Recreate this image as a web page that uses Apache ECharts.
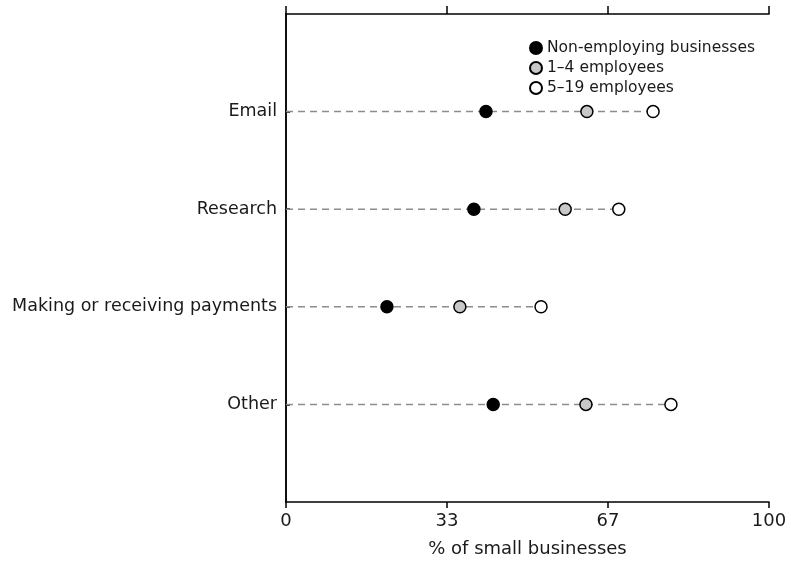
<!DOCTYPE html>
<html>
<head>
<meta charset="utf-8">
<script src="https://cdn.jsdelivr.net/npm/echarts@6/dist/echarts.min.js"></script>
<style>html,body{margin:0;padding:0;background:#fff}#c{width:791px;height:563px}</style>
</head>
<body>
<div id="c"></div>
<script>
const categories = ['Email', 'Research', 'Making or receiving payments', 'Other'];
const nonEmploying = [41.4, 38.9, 20.9, 42.9];
const emp1to4 = [62.3, 57.8, 36.0, 62.1];
const emp5to19 = [76.0, 68.9, 52.8, 79.7];
const seriesNames = ['Non-employing businesses', '1\u20134 employees', '5\u201319 employees'];
const xTicks = [0, 33, 67, 100];

const FONT = 'DejaVu Sans';
const TXT = '#1a1a1a';
const yData = [''].concat(categories, ['']);

const chart = echarts.init(document.getElementById('c'), null, {renderer: 'canvas'});

const lineSeries = categories.map((c, i) => ({
  type: 'line',
  silent: true,
  symbol: 'none',
  z: 1,
  lineStyle: {color: '#8c8c8c', width: 1.5, type: [7, 5]},
  data: [[0, c], [Math.max(nonEmploying[i], emp1to4[i], emp5to19[i]), c]]
}));

function scatter(name, vals, fill) {
  return {
    type: 'scatter',
    name: name,
    z: 5,
    symbol: 'circle',
    symbolSize: 12,
    itemStyle: {color: fill, borderColor: '#000', borderWidth: 1.5, opacity: 1},
    data: vals.map((v, i) => [v, categories[i]])
  };
}

chart.setOption({
  animation: false,
  backgroundColor: '#fff',
  grid: {left: 286, right: 22, top: 14, bottom: 60},
  legend: {
    orient: 'vertical',
    left: 524,
    top: 34,
    itemWidth: 12,
    itemHeight: 12,
    itemGap: 2,
    icon: 'circle',
    textStyle: {fontFamily: FONT, fontSize: 15.5, color: TXT, lineHeight: 18},
    data: seriesNames
  },
  xAxis: [{
    type: 'value',
    position: 'bottom',
    min: 0,
    max: 100,
    interval: 100 / 3,
    splitLine: {show: false},
    axisLine: {show: true, lineStyle: {color: '#000', width: 1.5}},
    axisTick: {show: true, length: 6, lineStyle: {color: '#000', width: 1.5}},
    axisLabel: {
      margin: 10, fontFamily: FONT, fontSize: 18, color: TXT,
      formatter: v => String(xTicks[Math.round(v / (100 / 3))])
    },
    name: '% of small businesses',
    nameLocation: 'middle',
    nameGap: 38,
    nameTextStyle: {fontFamily: FONT, fontSize: 18, color: TXT}
  }, {
    type: 'value',
    position: 'top',
    min: 0,
    max: 100,
    interval: 100 / 3,
    splitLine: {show: false},
    axisLine: {show: true, lineStyle: {color: '#000', width: 1.5}},
    axisTick: {show: true, length: 8, lineStyle: {color: '#000', width: 1.5}},
    axisLabel: {show: false}
  }],
  yAxis: [{
    type: 'category',
    data: yData,
    inverse: true,
    boundaryGap: false,
    axisLine: {show: true, lineStyle: {color: '#000', width: 1.5}},
    axisTick: {show: true, inside: true, length: 4, lineStyle: {color: '#000', width: 1.5},
      interval: (idx) => idx > 0 && idx < yData.length - 1},
    axisLabel: {margin: 9, fontFamily: FONT, fontSize: 17.5, color: TXT, interval: 0},
    splitLine: {show: false}
  }, {
    type: 'category',
    data: yData,
    inverse: true,
    boundaryGap: false,
    position: 'right',
    axisLine: {show: true, lineStyle: {color: '#000', width: 1.5}},
    axisTick: {show: false},
    axisLabel: {show: false},
    splitLine: {show: false}
  }],
  series: lineSeries.concat([
    scatter(seriesNames[0], nonEmploying, '#000000'),
    scatter(seriesNames[1], emp1to4, '#c8c8c8'),
    scatter(seriesNames[2], emp5to19, '#ffffff')
  ])
});
</script>
</body>
</html>
